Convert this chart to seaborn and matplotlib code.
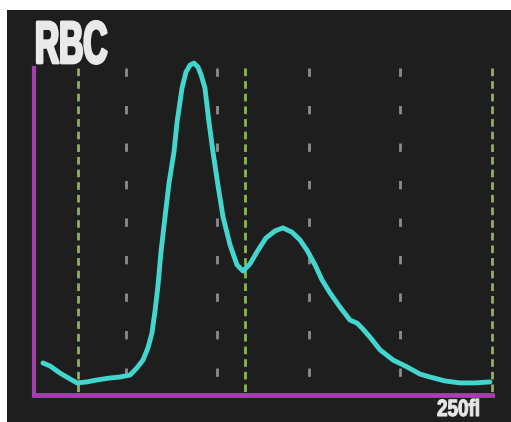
import numpy as np
import pandas as pd
import matplotlib
matplotlib.use("Agg")
import matplotlib.pyplot as plt
import matplotlib.patheffects as pe
from matplotlib.transforms import Affine2D
import seaborn as sns

# ---- data ----
size_fl = [4.9, 8.7, 14.2, 19.7, 23.5, 28.9, 34.4, 41.5, 46.9, 52.4, 56.2, 59.5,
           62.2, 64.4, 66.0, 67.7, 69.3, 71.5, 73.7, 76.4, 78.1, 80.8, 83.0, 85.2,
           87.3, 89.5, 91.2, 93.3, 95.5, 97.7, 100.4, 103.2, 107.0, 110.8, 114.1,
           117.9, 122.3, 126.6, 131.6, 135.9, 140.8, 145.2, 149.0, 153.4, 157.2,
           161.6, 167.0, 172.5, 176.3, 179.0, 183.4, 188.9, 196.0, 203.6, 210.7,
           216.2, 224.3, 232.5, 240.7, 248.9]
count = [9.8, 8.9, 6.7, 4.9, 3.7, 4.0, 4.6, 5.2, 5.5, 6.1, 8.3, 10.7,
         14.4, 19.0, 25.4, 33.6, 43.7, 54.4, 64.8, 74.3, 83.5, 93.9, 98.8, 100.9,
         101.5, 100.3, 97.9, 93.9, 83.5, 74.3, 64.2, 54.4, 45.9, 39.8, 37.9,
         40.1, 44.3, 48.0, 50.2, 51.1, 49.8, 47.4, 44.3, 39.8, 35.2,
         31.2, 26.9, 22.9, 22.0, 20.5, 17.7, 13.8, 10.7, 8.6, 6.4,
         5.5, 4.3, 3.7, 3.7, 4.0]
green_marks = [24, 115, 250]
grey_marks = [50, 100, 150, 200]
title_text = "RBC"
unit_text = "250fl"

df = pd.DataFrame({"size": size_fl, "count": count})

# ---- style ----
sns.set_style("dark")
plt.rcParams["lines.scale_dashes"] = False
plt.rcParams["font.family"] = ["Liberation Sans", "DejaVu Sans"]

W, H = 511, 422
fig = plt.figure(figsize=(W / 100, H / 100), dpi=100, facecolor="white")

bg = fig.add_axes([7 / W, 0, 1 - 7 / W, 1 - 10 / H])
bg.set_facecolor("#1e1e1e")
bg.set_xticks([]); bg.set_yticks([])
for s in bg.spines.values():
    s.set_visible(False)

ax = fig.add_axes([34 / W, (H - 395) / H, 458 / W, 327 / H])
ax.set_facecolor("none")
ax.set_xlim(0, 250)
ax.set_ylim(0, 100)

for gx in grey_marks:
    ax.plot([gx, gx], [100, 0], color="#8c8c8c", lw=2.0, dashes=(6, 21), zorder=2)
for gx in green_marks:
    ax.plot([gx, gx], [100, 0], color="#8db45a", lw=2.0, dashes=(5.5, 3.6), zorder=2,
            clip_on=False)

sns.lineplot(data=df, x="size", y="count", ax=ax, color="#42d6cf", lw=3.5,
             zorder=4, clip_on=False)

ax.set_xticks([]); ax.set_yticks([])
ax.set_xlabel(""); ax.set_ylabel("")
for side in ("top", "right"):
    ax.spines[side].set_visible(False)
for side in ("left", "bottom"):
    ax.spines[side].set_visible(True)
    ax.spines[side].set_color("#a43fae")
ax.spines["left"].set_linewidth(3.0)
ax.spines["bottom"].set_linewidth(3.5)
ax.spines["bottom"].set_zorder(3)


class Squeeze(pe.AbstractPathEffect):
    """Draw text narrower (condensed display font) and a little bolder."""
    def __init__(self, sx, x0, stroke):
        super().__init__()
        self.sx, self.x0, self.stroke = sx, x0, stroke

    def draw_path(self, renderer, gc, tpath, affine, rgbFace=None):
        aff = affine + Affine2D().translate(-self.x0, 0).scale(self.sx, 1).translate(self.x0, 0)
        gc0 = renderer.new_gc()
        gc0.copy_properties(gc)
        gc0.set_linewidth(self.stroke)
        gc0.set_foreground(rgbFace)
        gc0.set_joinstyle("round")
        renderer.draw_path(gc0, tpath, aff, rgbFace)
        gc0.restore()


fig.text(35 / W, 1 - 63 / H, title_text, color="#e9e9e9", fontsize=43,
         fontweight="bold", ha="left", va="baseline",
         path_effects=[Squeeze(0.56, 35, 2.0)])
fig.text(437 / W, 1 - 416 / H, unit_text, color="#e6e6e6", fontsize=17,
         fontweight="bold", ha="left", va="baseline",
         path_effects=[Squeeze(0.8, 437, 0.8)])

fig.savefig("out.png", dpi=100, facecolor=fig.get_facecolor())
